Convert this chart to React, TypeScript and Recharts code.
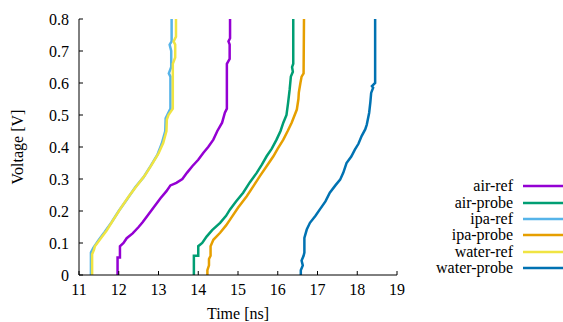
import { LineChart, Line, XAxis, YAxis } from "recharts";

document.body.style.margin = "0";

type Pt = { t: number; v: number };
const pts = (a: number[][]): Pt[] => a.map(([t, v]) => ({ t, v }));

const xTicks = [11, 12, 13, 14, 15, 16, 17, 18, 19];
const yTicks = [0, 0.1, 0.2, 0.3, 0.4, 0.5, 0.6, 0.7, 0.8];

const airRef = pts([
  [11.97, 0], [11.97, 0.055], [12.03, 0.055], [12.03, 0.09], [12.12, 0.1], [12.2, 0.115],
  [12.35, 0.13], [12.5, 0.15], [12.6, 0.165], [12.75, 0.19], [12.9, 0.215], [13.05, 0.24],
  [13.2, 0.262], [13.3, 0.28], [13.45, 0.288], [13.6, 0.3], [13.72, 0.32], [13.85, 0.34],
  [14.0, 0.36], [14.13, 0.382], [14.25, 0.4], [14.38, 0.423], [14.48, 0.45], [14.6, 0.476],
  [14.67, 0.507], [14.72, 0.52], [14.72, 0.66], [14.79, 0.675], [14.79, 0.72], [14.76, 0.73],
  [14.8, 0.74], [14.8, 0.8],
]);

const airProbe = pts([
  [13.89, 0], [13.89, 0.06], [14.0, 0.06], [14.0, 0.09], [14.1, 0.1], [14.21, 0.12],
  [14.35, 0.14], [14.55, 0.163], [14.7, 0.185], [14.8, 0.205], [14.95, 0.23], [15.13, 0.257],
  [15.3, 0.29], [15.47, 0.319], [15.6, 0.345], [15.72, 0.371], [15.85, 0.395], [15.97, 0.423],
  [16.07, 0.45], [16.14, 0.476], [16.22, 0.5], [16.26, 0.538], [16.3, 0.58], [16.33, 0.62],
  [16.38, 0.635], [16.36, 0.65], [16.39, 0.66], [16.39, 0.8],
]);

const ipaRef = pts([
  [11.3, 0], [11.3, 0.07], [11.36, 0.085], [11.5, 0.11], [11.65, 0.135], [11.82, 0.165],
  [12.0, 0.2], [12.2, 0.235], [12.42, 0.275], [12.62, 0.305], [12.8, 0.34], [12.97, 0.375],
  [13.08, 0.41], [13.17, 0.45], [13.18, 0.49], [13.22, 0.5], [13.3, 0.52], [13.3, 0.62],
  [13.26, 0.63], [13.32, 0.65], [13.32, 0.7], [13.28, 0.72], [13.33, 0.73], [13.33, 0.8],
]);

const ipaProbe = pts([
  [14.23, 0], [14.23, 0.015], [14.27, 0.03], [14.27, 0.05], [14.31, 0.06], [14.31, 0.09],
  [14.38, 0.11], [14.55, 0.132], [14.7, 0.155], [14.8, 0.173], [15.0, 0.21], [15.22, 0.246],
  [15.4, 0.28], [15.55, 0.309], [15.72, 0.34], [15.89, 0.371], [16.0, 0.395], [16.14, 0.423],
  [16.25, 0.45], [16.35, 0.476], [16.48, 0.517], [16.52, 0.55], [16.53, 0.57], [16.57, 0.6],
  [16.6, 0.62], [16.65, 0.63], [16.66, 0.8],
]);

const waterRef = pts([
  [11.33, 0], [11.33, 0.065], [11.38, 0.08], [11.4, 0.09], [11.55, 0.115], [11.7, 0.14],
  [11.85, 0.17], [12.03, 0.205], [12.25, 0.245], [12.45, 0.278], [12.65, 0.31], [12.83, 0.345],
  [13.0, 0.38], [13.12, 0.413], [13.2, 0.45], [13.21, 0.486], [13.25, 0.5], [13.36, 0.52],
  [13.36, 0.66], [13.42, 0.68], [13.42, 0.72], [13.38, 0.73], [13.44, 0.745], [13.44, 0.8],
]);

const waterProbe = pts([
  [16.58, 0], [16.58, 0.015], [16.63, 0.03], [16.6, 0.045], [16.65, 0.06], [16.67, 0.07],
  [16.67, 0.116], [16.73, 0.142], [16.81, 0.163], [16.95, 0.185], [17.06, 0.205], [17.2, 0.23],
  [17.31, 0.257], [17.45, 0.28], [17.57, 0.298], [17.65, 0.32], [17.73, 0.35], [17.85, 0.37],
  [17.94, 0.392], [18.03, 0.41], [18.11, 0.434], [18.2, 0.455], [18.24, 0.47], [18.3, 0.507],
  [18.33, 0.54], [18.35, 0.569], [18.4, 0.585], [18.37, 0.59], [18.45, 0.6], [18.45, 0.8],
]);

const series = [
  { name: "air-ref", color: "#9400d3", data: airRef },
  { name: "air-probe", color: "#009e73", data: airProbe },
  { name: "ipa-ref", color: "#56b4e9", data: ipaRef },
  { name: "ipa-probe", color: "#e69f00", data: ipaProbe },
  { name: "water-ref", color: "#f0e442", data: waterRef },
  { name: "water-probe", color: "#0072b2", data: waterProbe },
];

const FONT = "'Liberation Serif', serif";
const tickStyle = { fontSize: 16, fill: "#000", fontFamily: FONT };
const blank = () => "";

export default function App() {
  return (
    <div style={{ position: "relative", width: 563, height: 322, fontFamily: FONT }}>
      <LineChart width={563} height={322} margin={{ top: 19, right: 166, bottom: 0, left: 0 }}>
        <XAxis
          xAxisId="b"
          type="number"
          dataKey="t"
          domain={[11, 19]}
          ticks={xTicks}
          height={47}
          stroke="#000"
          tickSize={-4}
          tickMargin={13}
          tick={tickStyle}
          allowDataOverflow
          label={{ value: "Time [ns]", position: "insideBottom", offset: 3, style: tickStyle }}
        />
        <XAxis
          xAxisId="t"
          orientation="top"
          type="number"
          dataKey="t"
          domain={[11, 19]}
          ticks={xTicks}
          height={0}
          stroke="#000"
          tickSize={-4}
          tickFormatter={blank}
          allowDataOverflow
        />
        <YAxis
          yAxisId="l"
          type="number"
          dataKey="v"
          domain={[0, 0.8]}
          ticks={yTicks}
          width={79}
          stroke="#000"
          tickSize={-4}
          tickMargin={14}
          tick={tickStyle}
          allowDataOverflow
          label={{
            value: "Voltage [V]",
            angle: -90,
            position: "insideLeft",
            offset: 17,
            style: { ...tickStyle, textAnchor: "middle" },
          }}
        />
        <YAxis
          yAxisId="r"
          orientation="right"
          type="number"
          dataKey="v"
          domain={[0, 0.8]}
          ticks={yTicks}
          width={0}
          stroke="#000"
          tickSize={-4}
          tickFormatter={blank}
          allowDataOverflow
        />
        {series.map((s) => (
          <Line
            key={s.name}
            xAxisId="b"
            yAxisId="l"
            data={s.data}
            dataKey="v"
            type="linear"
            stroke={s.color}
            strokeWidth={2.5}
            dot={false}
            isAnimationActive={false}
          />
        ))}
      </LineChart>
      <div style={{ position: "absolute", left: 400, top: 178, width: 163 }}>
        {series.map((s) => (
          <div key={s.name} style={{ display: "flex", alignItems: "center", height: 16.4 }}>
            <span style={{ width: 113, textAlign: "right", fontSize: 16, lineHeight: "16px", color: "#000" }}>
              {s.name}
            </span>
            <svg width={50} height={16}>
              <line x1={10} x2={50} y1={8} y2={8} stroke={s.color} strokeWidth={2.5} />
            </svg>
          </div>
        ))}
      </div>
    </div>
  );
}
